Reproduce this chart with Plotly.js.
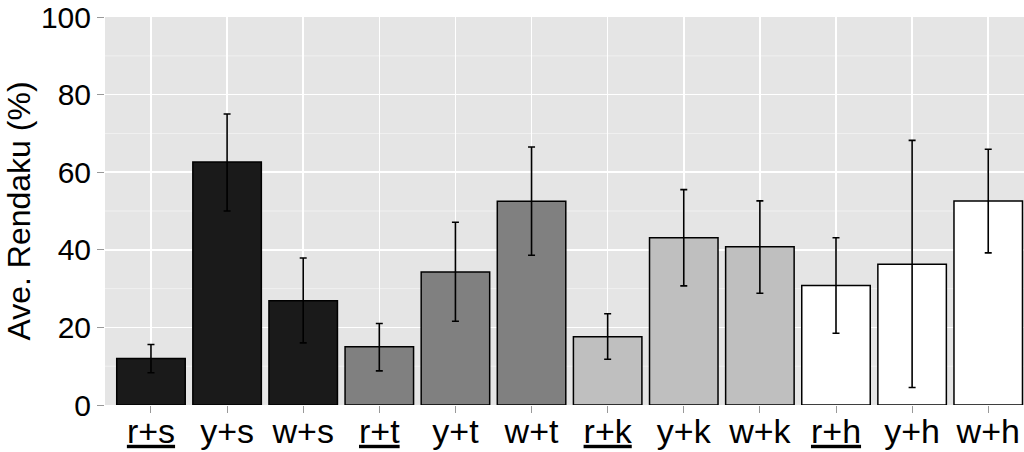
<!DOCTYPE html>
<html>
<head>
<meta charset="utf-8">
<script src="https://cdn.plot.ly/plotly-3.0.1.min.js"></script>
<style>html,body{margin:0;padding:0;background:#fff;}#chart{width:1024px;height:452px;}</style>
</head>
<body>
<div id="chart"></div>
<script>
const categories = ["r+s","y+s","w+s","r+t","y+t","w+t","r+k","y+k","w+k","r+h","y+h","w+h"];
const tickLabels = ["<u>r+s</u>","y+s","w+s","<u>r+t</u>","y+t","w+t","<u>r+k</u>","y+k","w+k","<u>r+h</u>","y+h","w+h"];
const means = [12.0, 62.6, 26.9, 15.0, 34.3, 52.5, 17.6, 43.1, 40.8, 30.8, 36.3, 52.6];
const upper = [15.6, 75.0, 37.9, 21.0, 47.1, 66.5, 23.5, 55.5, 52.6, 43.1, 68.2, 65.9];
const lower = [8.3, 50.0, 16.0, 8.8, 21.6, 38.6, 11.8, 30.7, 28.8, 18.5, 4.5, 39.2];
const fills = ["#1a1a1a","#1a1a1a","#1a1a1a","#808080","#808080","#808080","#bfbfbf","#bfbfbf","#bfbfbf","#ffffff","#ffffff","#ffffff"];
const yTicks = [0, 20, 40, 60, 80, 100];

const errPlus = upper.map((u, i) => u - means[i]);
const errMinus = lower.map((l, i) => means[i] - l);

const font = "Liberation Sans, Arial, sans-serif";

const trace = {
  type: "bar",
  x: categories,
  y: means,
  marker: { color: fills, line: { color: "#000", width: 1.5 } },
  error_y: { type: "data", symmetric: false, array: errPlus, arrayminus: errMinus, color: "#000", thickness: 1.6, width: 3.5 },
  hoverinfo: "x+y"
};

const minorShapes = [10, 30, 50, 70, 90].map(v => ({
  type: "line", xref: "paper", x0: 0, x1: 1, yref: "y", y0: v, y1: v,
  line: { color: "#f2f2f2", width: 0.9 }, layer: "below"
}));

const layout = {
  width: 1024, height: 452,
  margin: { l: 105, r: 0, t: 17, b: 47 },
  paper_bgcolor: "#ffffff",
  plot_bgcolor: "#e5e5e5",
  bargap: 0.1,
  showlegend: false,
  font: { family: font, color: "#000" },
  shapes: minorShapes,
  xaxis: {
    type: "category",
    categoryorder: "array",
    categoryarray: categories,
    tickvals: categories,
    ticktext: tickLabels,
    range: [-0.604, 11.47],
    showgrid: true, gridcolor: "#ffffff", gridwidth: 1.5,
    zeroline: false, showline: false,
    ticks: "outside", ticklen: 7, tickwidth: 1, tickcolor: "#999999",
    ticklabeloverflow: "allow",
    ticklabelstandoff: -11,
    tickfont: { family: font, size: 34, color: "#000" }
  },
  yaxis: {
    range: [0, 100],
    tickvals: yTicks,
    showgrid: true, gridcolor: "#ffffff", gridwidth: 1.5,
    zeroline: false, showline: false,
    ticks: "outside", ticklen: 7, tickwidth: 1, tickcolor: "#999999",
    ticklabeloverflow: "allow",
    tickfont: { family: font, size: 30, color: "#000" },
    title: { text: "Ave. Rendaku (%)", font: { family: font, size: 32, color: "#000" }, standoff: 0 }
  }
};

Plotly.newPlot("chart", [trace], layout, { displayModeBar: false, staticPlot: true });
</script>
</body>
</html>
